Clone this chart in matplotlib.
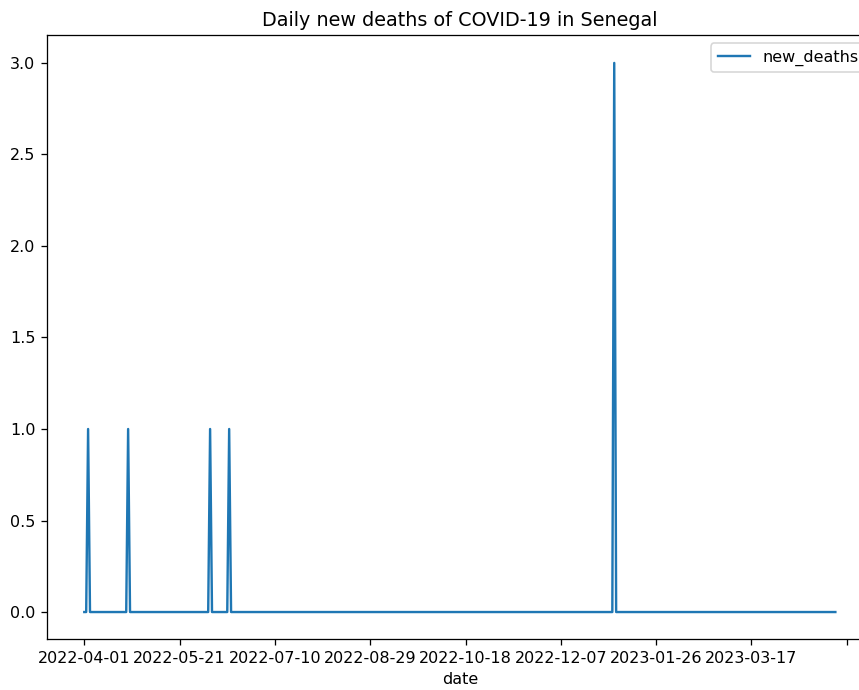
import numpy as np
import pandas as pd
import matplotlib
matplotlib.use("Agg")
import matplotlib.pyplot as plt

# daily reporting window, zero on every day except the listed ones
first_day = "2022-04-01"
last_day = "2023-04-30"
death_days = ["2022-04-03", "2022-04-24", "2022-06-06", "2022-06-16", "2023-01-04"]
death_counts = [1, 1, 1, 1, 3]

dates = pd.date_range(first_day, last_day, freq="D").strftime("%Y-%m-%d")
df = pd.DataFrame({"date": dates, "new_deaths": 0.0}).set_index("date")
df.loc[death_days, "new_deaths"] = death_counts

fig = plt.figure(figsize=(859 / 115, 690 / 115), dpi=115)
ax = fig.add_axes([0.0544, 0.0732, 0.9618, 0.8754])

x = np.arange(len(df))
ax.plot(x, df["new_deaths"].values, label="new_deaths")

ticks = np.arange(0, len(df) + 50, 50)
ticks = ticks[ticks <= 400]
labels = [df.index[t] if t < len(df) else "" for t in ticks]
ax.set_xticks(ticks)
ax.set_xticklabels(labels)
ax.set_xlim(-0.05 * (len(df) - 1), (len(df) - 1) * 1.05)
ax.set_xlabel("date")
ax.set_title("Daily new deaths of COVID-19 in Senegal")
ax.legend(loc="upper right")

fig.savefig("out.png", dpi=115)
